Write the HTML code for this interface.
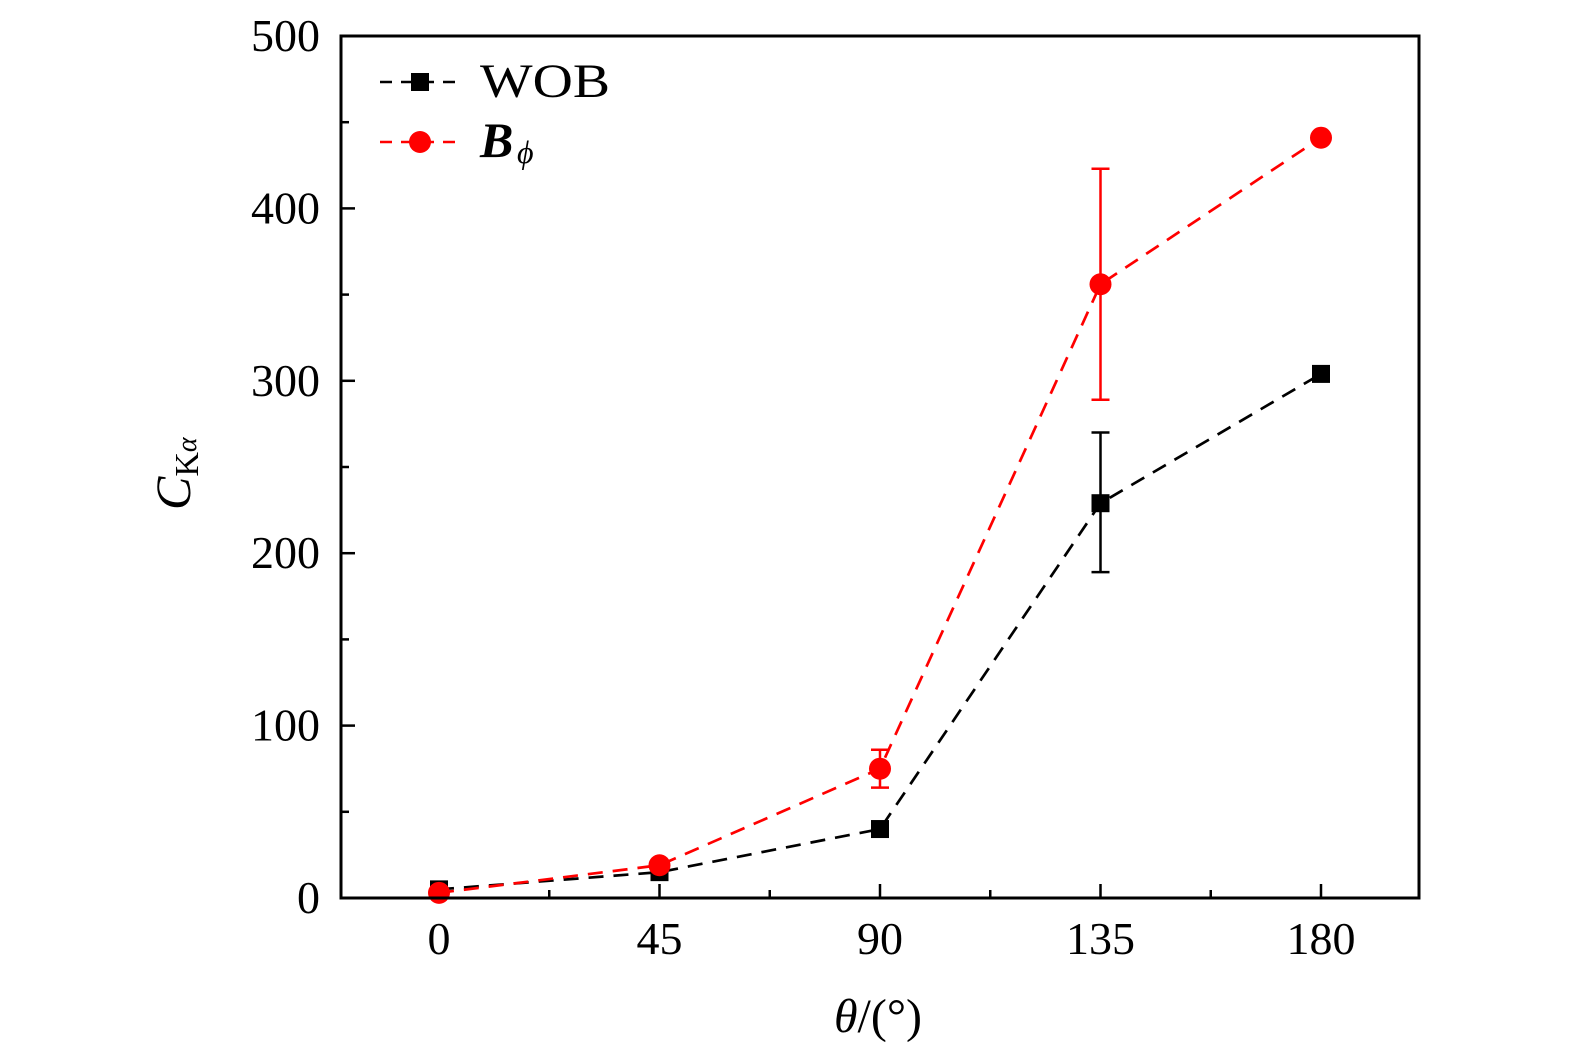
<!DOCTYPE html>
<html><head><meta charset="utf-8"><style>
html,body{margin:0;padding:0;background:#fff;}
svg text{font-family:"Liberation Serif",serif;}
</style></head><body>
<svg id="chart" width="1575" height="1053" viewBox="0 0 1575 1053" xmlns="http://www.w3.org/2000/svg"></svg>
<script>
const angles=[0,45,90,135,180];
const wobValues=[5,15,40,229,304];
const wobErrLow=[null,null,null,189,null];
const wobErrHigh=[null,null,null,270,null];
const bphiValues=[3,19,75,356,441];
const bphiErrLow=[null,null,64,289,null];
const bphiErrHigh=[null,null,86,423,null];
const xTicks=[0,45,90,135,180];
const yTicks=[0,100,200,300,400,500];

const L=341,R=1419,T=36,B=898;
const xs=v=>L+(v+20)/220*(R-L);
const ys=v=>B-v/500*(B-T);
const svg=document.getElementById('chart');
const NS='http://www.w3.org/2000/svg';
function mk(tag,attrs,parent){const e=document.createElementNS(NS,tag);for(const k in attrs)e.setAttribute(k,attrs[k]);(parent||svg).appendChild(e);return e;}

for(let v=-22.5;v<=200;v+=22.5){if(v<-20)continue;const major=xTicks.includes(v);
 const t=mk('line',{x1:xs(v),x2:xs(v),y1:B,y2:B-(major?14:8),stroke:'#000','stroke-width':2.5});
 
 }
for(let v=0;v<=500;v+=50){const major=v%100===0;
 const t=mk('line',{x1:L,x2:L+(major?14:8),y1:ys(v),y2:ys(v),stroke:'#000','stroke-width':2.5});
 
 }
xTicks.forEach(v=>{const t=mk('text',{x:xs(v),y:954,'font-size':46,'text-anchor':'middle'});t.textContent=v;
 
 });
yTicks.forEach(v=>{const t=mk('text',{x:320,y:ys(v)+15,'font-size':46,'text-anchor':'end'});t.textContent=v;
 
 });

function series(vals,lo,hi,color,shape,name){
 const g=mk('g',{});
 
 
 mk('polyline',{points:vals.map((v,i)=>xs(angles[i])+','+ys(v)).join(' '),fill:'none',stroke:color,'stroke-width':2.7,'stroke-dasharray':'15,10'},g);
 vals.forEach((v,i)=>{
  if(lo[i]!=null){const x=xs(angles[i]);
   const eb=mk('path',{d:`M${x},${ys(lo[i])}V${ys(hi[i])}M${x-9},${ys(lo[i])}h18M${x-9},${ys(hi[i])}h18`,stroke:color,'stroke-width':2.5,fill:'none'},g);
   
   }
  let m;
  if(shape==='sq')m=mk('rect',{x:xs(angles[i])-9,y:ys(v)-9,width:18,height:18,fill:color},g);
  else m=mk('circle',{cx:xs(angles[i]),cy:ys(v),r:11,fill:color},g);
  
  
 });
}
series(wobValues,wobErrLow,wobErrHigh,'#000','sq','wob');
series(bphiValues,bphiErrLow,bphiErrHigh,'#f00','ci','bphi');

const f=mk('rect',{x:L,y:T,width:R-L,height:B-T,fill:'none',stroke:'#000','stroke-width':3});



const lg=mk('g',{});


mk('line',{x1:380,x2:460,y1:82,y2:82,stroke:'#000','stroke-width':2.5,'stroke-dasharray':'12,9'},lg);
mk('rect',{x:411,y:73,width:18,height:18,fill:'#000'},lg);
const t1=mk('text',{x:480,y:97,'font-size':48,'textLength':130,'lengthAdjust':'spacingAndGlyphs'},lg);t1.textContent='WOB';
mk('line',{x1:380,x2:460,y1:142,y2:142,stroke:'#f00','stroke-width':2.5,'stroke-dasharray':'12,9'},lg);
mk('circle',{cx:420,cy:142,r:11,fill:'#f00'},lg);
const t2=mk('text',{x:480,y:157,'font-size':50,'font-weight':'bold','font-style':'italic'},lg);t2.textContent='B';
const t3=mk('text',{x:517,y:163,'font-size':32,'font-style':'italic'},lg);t3.textContent='ϕ';

const xt=mk('text',{x:878,y:1032,'font-size':48,'text-anchor':'middle'});
xt.innerHTML='<tspan font-style="italic">θ</tspan>/(°)';


const yt=mk('text',{transform:'translate(190,510) rotate(-90)','font-size':50});
yt.innerHTML='<tspan font-style="italic">C</tspan><tspan font-size="34" dy="8">K</tspan><tspan font-size="28" font-style="italic" dy="-2">α</tspan>';


</script>
</body></html>
